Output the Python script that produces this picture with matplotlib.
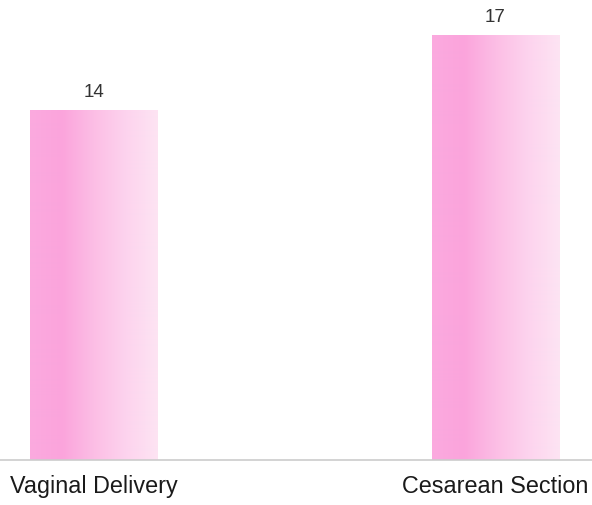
import numpy as np
import matplotlib
matplotlib.use("Agg")
import matplotlib.pyplot as plt
from matplotlib.colors import LinearSegmentedColormap

categories = ["Vaginal Delivery", "Cesarean Section"]
counts = [14, 17]

plt.rcParams["font.family"] = ["Liberation Sans", "DejaVu Sans"]

fig = plt.figure(figsize=(5.92, 5.06), dpi=100)
ax = fig.add_axes([0, 45 / 506, 1, 461 / 506])

pink = LinearSegmentedColormap.from_list(
    "pink_fade", ["#fbaadf", "#fba4dc", "#fcbee5", "#fdd3ee", "#fde4f3"])
gradient = np.linspace(0, 1, 256).reshape(1, -1)

width = 0.316
x = np.arange(len(categories))
bars = ax.bar(x, counts, width=width, color="none", edgecolor="none")
for bar, val in zip(bars, counts):
    x0 = bar.get_x()
    im = ax.imshow(gradient, cmap=pink, aspect="auto",
                   extent=[x0, x0 + width, 0, val], zorder=2)
    im.set_clip_path(bar)
    ax.text(bar.get_x() + width / 2, val + 0.4, str(val),
            ha="center", va="bottom", fontsize=13.5, color="#333333")

ax.set_xlim(-0.2326, 1.240)
ax.set_ylim(0, 18.44)
ax.set_xticks(x)
ax.set_xticklabels(categories, fontsize=16.8, color="#1a1a1a")
ax.tick_params(axis="x", length=0, pad=10)
ax.set_yticks([])
for side in ["top", "left", "right"]:
    ax.spines[side].set_visible(False)
ax.spines["bottom"].set_color("#cccccc")
ax.spines["bottom"].set_linewidth(1.2)

fig.savefig("out.png", dpi=100)
